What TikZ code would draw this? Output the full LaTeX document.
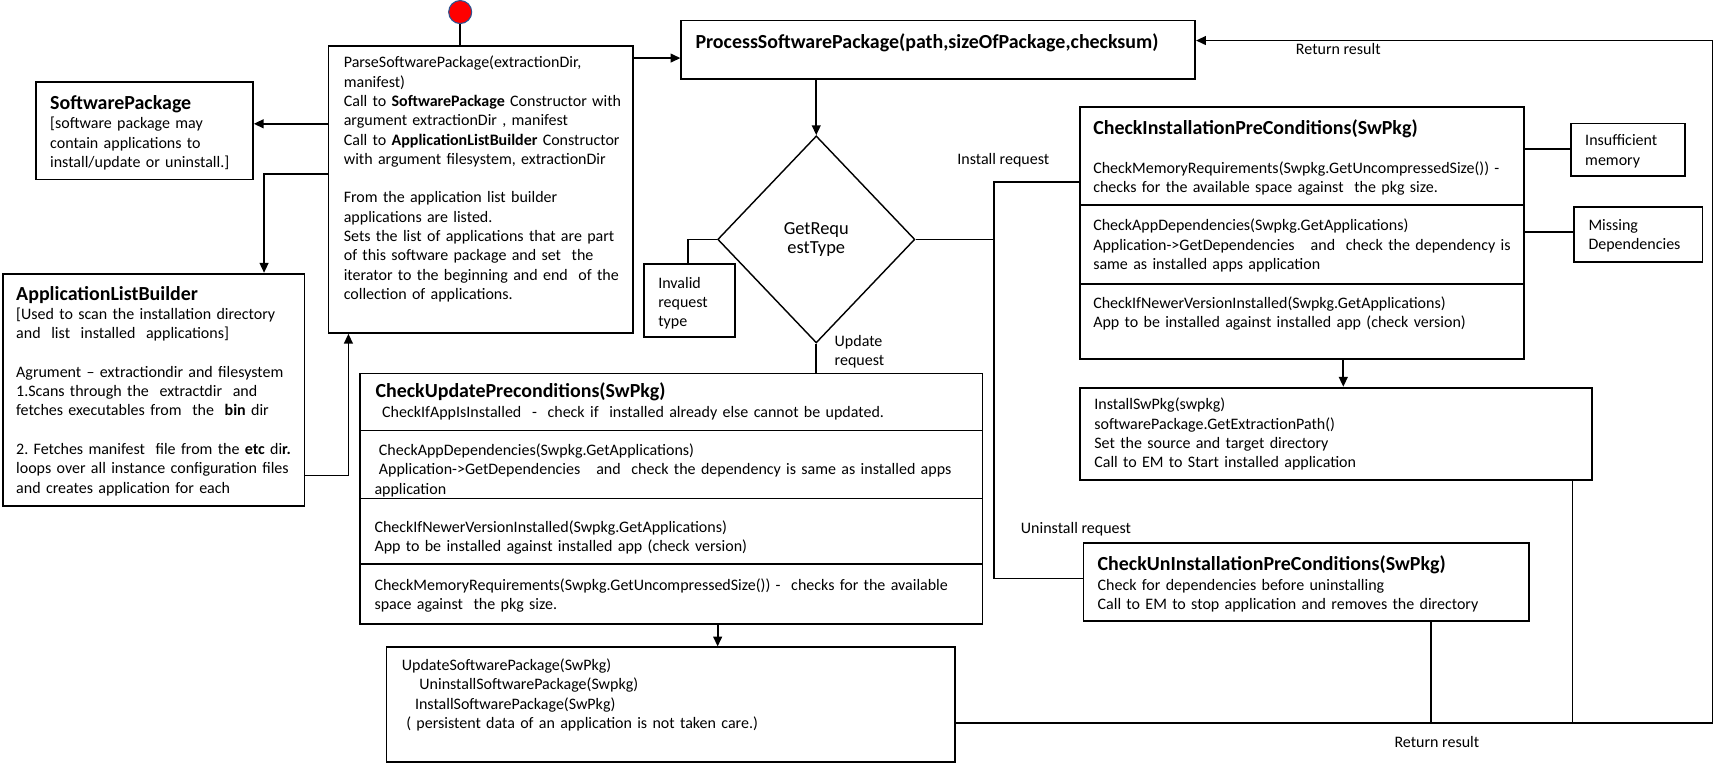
\documentclass[tikz,border=0pt]{standalone}
\usepackage{fontspec}
\setmainfont{Carlito}
\usepackage{tikz}
\usetikzlibrary{arrows.meta, shapes.geometric}
\frenchspacing

\newcommand{\boxtitle}[1]{{\fontsize{18.2}{17.6}\selectfont\bfseries #1}}

\begin{document}
\begin{tikzpicture}[x=1pt, y=-1pt, line width=1.6pt,
  >={Triangle[length=9pt,width=8pt]},
  box/.style={draw, rectangle, anchor=north west, inner sep=0pt},
  txt/.style={anchor=base west, align=left, inner sep=0pt, text width=600pt,
    font=\fontsize{14.6}{17.6}\selectfont},
  lbl/.style={anchor=base west, inner sep=0pt, font=\fontsize{14.6}{17.6}\selectfont}]
\useasboundingbox (0,0) rectangle (1568,700);

% boxes
\node[circle, fill=red, draw={rgb,255:red,47;green,82;blue,143}, line width=1pt,
  minimum size=21pt, inner sep=0pt] (start) at (420,11) {};
\node[box, minimum width=278pt, minimum height=262pt] (parse) at (299,41) {};
\node[box, minimum width=198pt, minimum height=89pt] (swpkg) at (32,74) {};
\node[box, minimum width=275pt, minimum height=212pt] (alb) at (2,249) {};
\node[box, minimum width=469pt, minimum height=53pt] (proc) at (621,18) {};
\node[diamond, draw, line width=1.3pt, minimum width=180pt, minimum height=189pt,
  inner sep=0pt, align=center, font=\fontsize{16.8}{18}\selectfont] (req) at (745,218.5) {GetRequ\\estType};
\node[box, minimum width=83pt, minimum height=67pt] (inval) at (587,240) {};
\node[box, minimum width=405pt, minimum height=230pt] (inst) at (985,97) {};
\node[box, minimum width=104pt, minimum height=48pt] (mem) at (1433,112) {};
\node[box, minimum width=117pt, minimum height=50pt] (dep) at (1436,188) {};
\node[box, minimum width=467pt, minimum height=84pt] (instpkg) at (985,353) {};
\node[box, minimum width=407pt, minimum height=71pt] (uninst) at (988,495) {};
\node[box, minimum width=568pt, minimum height=229pt] (upd) at (328,340) {};
\node[box, minimum width=519pt, minimum height=105pt] (updpkg) at (352,590) {};

\draw (inst.west |- 0,187) -- (inst.east |- 0,187);
\draw (inst.west |- 0,259) -- (inst.east |- 0,259);
\foreach \y in {393,455,515}
  \draw (upd.west |- 0,\y) -- (upd.east |- 0,\y);

% texts
\node[txt] (parse-t) at (313,62) {ParseSoftwarePackage(extractionDir,\\
manifest)\\
Call to \textbf{SoftwarePackage} Constructor with\\
argument extractionDir , manifest\\
Call to \textbf{ApplicationListBuilder} Constructor\\
with argument filesystem, extractionDir\\[17.6pt]
From the application list builder\\
applications are listed.\\
Sets the list of applications that are part\\
of this software package and set~ the\\
iterator to the beginning and end~ of the\\
collection of applications.};
\node[txt] (swpkg-t) at (45,100) {\boxtitle{SoftwarePackage}\\
{[}software package may\\
contain applications to\\
install/update or uninstall.]};
\node[txt] (alb-t) at (14,274) {\boxtitle{ApplicationListBuilder}\\
{[}Used to scan the installation directory\\
and~ list~ installed~ applications]\\[17.6pt]
Agrument – extractiondir and filesystem\\
1.Scans through the~ extractdir~ and\\
fetches executables from~ the~ \textbf{bin} dir\\[17.6pt]
2. Fetches manifest~ file from the \textbf{etc} di\textbf{r.}\\
loops over all instance configuration files\\
and creates application for each};
\node[txt] (proc-t) at (634,44) {\boxtitle{ProcessSoftwarePackage(path,sizeOfPackage,checksum)}};
\node[txt] (inval-t) at (600,263) {Invalid\\request\\type};
\node[txt] (inst-t) at (997,123) {\boxtitle{CheckInstallationPreConditions(SwPkg)}\\[17.4pt]
CheckMemoryRequirements(Swpkg.GetUncompressedSize()) -\\
checks for the available space against~ the pkg size.\\[17.6pt]
CheckAppDependencies(Swpkg.GetApplications)\\
Application->GetDependencies~~ and~ check the dependency is\\
same as installed apps application\\[17.6pt]
CheckIfNewerVersionInstalled(Swpkg.GetApplications)\\
App to be installed against installed app (check version)};
\node[txt] (mem-t) at (1446,133) {Insufficient\\memory};
\node[txt] (dep-t) at (1449,210) {Missing\\Dependencies};
\node[txt] (instpkg-t) at (998,374) {InstallSwPkg(swpkg)\\
softwarePackage.GetExtractionPath()\\
Set the source and target directory\\
Call to EM to Start installed application};
\node[txt] (uninst-t) at (1001,521) {\boxtitle{CheckUnInstallationPreConditions(SwPkg)}\\
Check for dependencies before uninstalling\\
Call to EM to stop application and removes the directory};
\node[txt] (upd-t) at (341,363) {\hspace*{1pt}\boxtitle{CheckUpdatePreconditions(SwPkg)}\\
\hspace*{7pt}CheckIfAppIsInstalled~ -~ check if~ installed already else cannot be updated.\\[17.6pt]
\hspace*{4pt}CheckAppDependencies(Swpkg.GetApplications)\\
\hspace*{4pt}Application->GetDependencies~~ and~ check the dependency is same as installed apps\\
application\\[17.6pt]
CheckIfNewerVersionInstalled(Swpkg.GetApplications)\\
App to be installed against installed app (check version)\\[17.6pt]
CheckMemoryRequirements(Swpkg.GetUncompressedSize()) -~ checks for the available\\
space against~ the pkg size.};
\node[txt] (updpkg-t) at (366,612) {UpdateSoftwarePackage(SwPkg)\\
\hspace*{16pt}UninstallSoftwarePackage(Swpkg)\\
\hspace*{12pt}InstallSoftwarePackage(SwPkg)\\
\hspace*{4pt}( persistent data of an application is not taken care.)};

% labels
\node[lbl] (l-inst) at (873,150) {Install request};
\node[txt] (l-upd) at (761,316) {Update\\request};
\node[lbl] (l-uninst) at (931,487) {Uninstall request};
\node[lbl] (l-ret1) at (1182,50) {Return result};
\node[lbl] (l-ret2) at (1272,682) {Return result};

% connectors
\coordinate (fork) at (907,218.5);
\coordinate (ret) at (1563,660);

\draw (start.south) -- (start.south |- parse.north);
\path[->] (parse.east |- 0,53) edge (proc.west |- 0,53)
  (parse.west |- 0,113) edge (swpkg.east |- 0,113)
  (req.north |- proc.south) edge (req.north)
  (inst.south -| 1226,0) edge (instpkg.north -| 1226,0)
  (upd.south -| 655,0) edge (updpkg.north -| 655,0);
\draw[->] (parse.west |- 0,159) -| (alb.north -| 241,0);
\draw[->] (alb.east |- 0,434) -| (parse.south -| 318,0);
\draw (req.west) -| (inval.north -| 628,0);
\draw (req.south) -- (req.south |- upd.north);
\draw (req.east) -- (fork);
\draw (inst.west |- 0,166) -- (fork |- 0,166) -- (fork |- 0,528) -- (uninst.west |- 0,528);
\draw (inst.east |- 0,136) -- (mem.west |- 0,136);
\draw (inst.east |- 0,212) -- (dep.west |- 0,212);
\draw[->] (updpkg.east |- ret) -- (ret) |- (proc.east |- 0,37);
\draw[line width=1pt] (instpkg.south -| 1435,0) |- (ret);
\draw[line width=1pt] (uninst.south -| 1306,0) |- (ret);
\end{tikzpicture}
\end{document}
